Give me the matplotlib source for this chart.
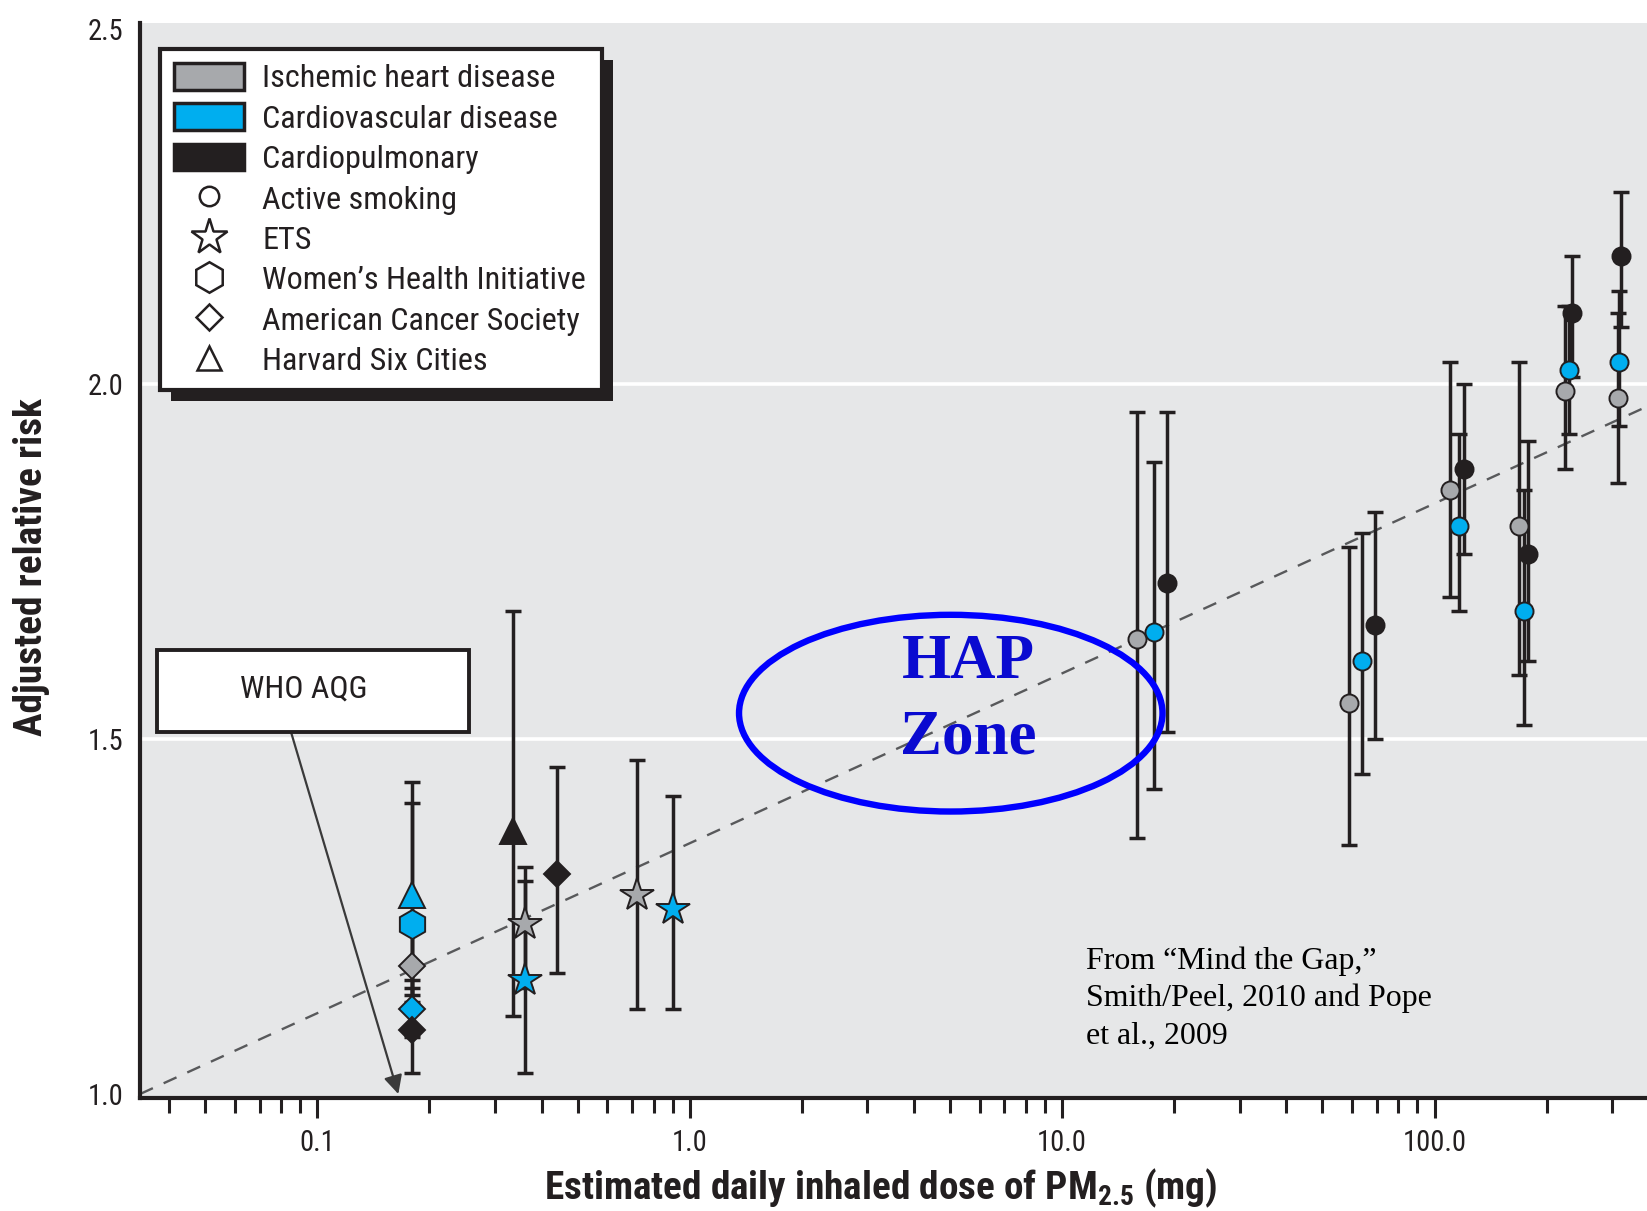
import numpy as np
import matplotlib
matplotlib.use("Agg")
import matplotlib.pyplot as plt
from matplotlib import font_manager as fm
from matplotlib.patches import Patch, Ellipse, Rectangle
from matplotlib.lines import Line2D

# ---- relative risk vs. estimated daily inhaled PM2.5 dose (mg) ----
# source keys: acs = American Cancer Society, whi = Women's Health Initiative,
# h6c = Harvard Six Cities, ets = second-hand smoke, smk = active smoking
ihd_dose = [0.18, 0.36, 0.72, 15.9, 59.0, 110.0, 169.0, 224.0, 310.0]
ihd_rr = [1.18, 1.24, 1.28, 1.64, 1.55, 1.85, 1.80, 1.99, 1.98]
ihd_lo = [1.14, 1.15, 1.12, 1.36, 1.35, 1.70, 1.59, 1.88, 1.86]
ihd_hi = [1.23, 1.32, 1.47, 1.96, 1.77, 2.03, 2.03, 2.11, 2.10]
ihd_src = ["acs", "ets", "ets", "smk", "smk", "smk", "smk", "smk", "smk"]

cvd_dose = [0.18, 0.18, 0.18, 0.36, 0.90, 17.6, 64.0, 116.0, 174.0, 229.0, 313.0]
cvd_rr = [1.12, 1.28, 1.24, 1.16, 1.26, 1.65, 1.61, 1.80, 1.68, 2.02, 2.03]
cvd_lo = [1.08, 1.13, 1.09, 1.03, 1.12, 1.43, 1.45, 1.68, 1.52, 1.93, 1.94]
cvd_hi = [1.15, 1.44, 1.41, 1.30, 1.42, 1.89, 1.79, 1.93, 1.85, 2.11, 2.13]
cvd_src = ["acs", "h6c", "whi", "ets", "ets", "smk", "smk", "smk", "smk", "smk", "smk"]

cp_dose = [0.18, 0.335, 0.44, 19.1, 69.0, 120.0, 178.0, 234.0, 317.0]
cp_rr = [1.09, 1.37, 1.31, 1.72, 1.66, 1.88, 1.76, 2.10, 2.18]
cp_lo = [1.03, 1.11, 1.17, 1.51, 1.50, 1.76, 1.61, 2.01, 2.08]
cp_hi = [1.16, 1.68, 1.46, 1.96, 1.82, 2.00, 1.92, 2.18, 2.27]
cp_src = ["acs", "h6c", "acs", "smk", "smk", "smk", "smk", "smk", "smk"]

# fitted log-linear trend
fit_dose = [0.0334, 372.0]
fit_rr = [1.0, 1.968]

# WHO air quality guideline dose
who_aqg_dose = 0.165

disease_labels = ["Ischemic heart disease", "Cardiovascular disease", "Cardiopulmonary"]
source_labels = ["Active smoking", "ETS", "Women\u2019s Health Initiative",
                 "American Cancer Society", "Harvard Six Cities"]
source_keys = ["smk", "ets", "whi", "acs", "h6c"]

x_ticks = [0.1, 1.0, 10.0, 100.0]
x_tick_labels = ["0.1", "1.0", "10.0", "100.0"]
x_minor = ([0.04, 0.05, 0.06, 0.07, 0.08, 0.09]
           + [m * 10.0 ** e for e in (-1, 0, 1) for m in range(2, 10)]
           + [200.0, 300.0])
y_ticks = [1.0, 1.5, 2.0, 2.5]

xlabel_text = "Estimated daily inhaled dose of PM$_{2.5}$ (mg)"
ylabel_text = "Adjusted relative risk"
note_text = "From \u201cMind the Gap,\u201d\nSmith/Peel, 2010 and Pope\net al., 2009"

# ---- styling ----
DARK = "#231f20"
GRAY = "#a7a9ac"
BLUE = "#00aeef"
BG = "#e6e7e8"
SERIF = ["Liberation Serif", "DejaVu Serif"]


def pick_condensed():
    """Prefer a narrow sans family; fall back to Liberation Sans."""
    names = {f.name for f in fm.fontManager.ttflist}
    for pref in ("Liberation Sans Narrow", "Arial Narrow", "Roboto Condensed",
                 "Open Sans Condensed", "Noto Sans Condensed",
                 "DejaVu Sans Condensed"):
        if pref in names:
            return pref, "normal"
    for f in fm.fontManager.ttflist:
        if (str(f.stretch) in ("condensed", "semi-condensed")
                and f.style == "normal" and "Sans" in f.name
                and "CJK" not in f.name and "Mono" not in f.name):
            return f.name, str(f.stretch)
    return "Liberation Sans", "normal"


SANS, STRETCH = pick_condensed()
plt.rcParams["font.family"] = [SANS, "DejaVu Sans"]
plt.rcParams["font.stretch"] = STRETCH
plt.rcParams["mathtext.default"] = "regular"

marker_style = {"smk": ("o", 13), "ets": ("*", 25), "whi": ("h", 21),
                "acs": ("D", 13.5), "h6c": ("^", 19)}
legend_marker = {"smk": ("o", 14), "ets": ("*", 27), "whi": ("h", 22),
                 "acs": ("D", 13), "h6c": ("^", 17)}

fig = plt.figure(figsize=(16.47, 12.11), dpi=100)
renderer = fig.canvas.get_renderer()
PX_PER_PT = fig.dpi / 72.0


def size_for_width(s, target_px, max_size, **kw):
    """Font size (pt) at which string s renders target_px wide."""
    t = fig.text(0, 0, s, fontsize=20, **kw)
    w = t.get_window_extent(renderer).width
    t.remove()
    return min(max_size, 20 * target_px / w)


tick_size = size_for_width("100.0", 64, 21)
legend_size = size_for_width("American Cancer Society", 318, 23.5)
xlabel_size = size_for_width(xlabel_text, 674, 29, fontweight="bold")
ylabel_size = size_for_width(ylabel_text, 336, 29, fontweight="bold")
who_size = size_for_width("WHO AQG", 129, 23)
note_size = size_for_width("Smith/Peel, 2010 and Pope", 345, 26, family=SERIF)
hap_size = size_for_width("HAP", 133, 50, family=SERIF, fontweight="bold")

ax = fig.add_axes([0.0850, 0.0933, 0.9150, 0.8877])
ax.set_facecolor(BG)
ax.set_xscale("log")
ax.set_xlim(0.0334, 372.0)
ax.set_ylim(0.9944, 2.508)

# white horizontal gridlines
ax.set_yticks(y_ticks)
ax.set_yticklabels([f"{v:.1f}" for v in y_ticks])
ax.grid(axis="y", color="white", lw=2.6)
for gl, v in zip(ax.get_ygridlines(), y_ticks):
    if v in (1.0, 2.5):
        gl.set_visible(False)
ax.set_axisbelow(True)

# trend line
ax.plot(fit_dose, fit_rr, ls=(0, (6, 5)), color="#58595b", lw=1.7, zorder=2)

series = [
    (ihd_dose, ihd_rr, ihd_lo, ihd_hi, ihd_src, GRAY),
    (cvd_dose, cvd_rr, cvd_lo, cvd_hi, cvd_src, BLUE),
    (cp_dose, cp_rr, cp_lo, cp_hi, cp_src, DARK),
]
z = 4.0
for dose, rr, lo, hi, src, col in series:
    d = np.array(dose)
    r = np.array(rr)
    yerr = [r - np.array(lo), np.array(hi) - r]
    ax.errorbar(d, r, yerr=yerr, fmt="none", ecolor=DARK, elinewidth=2.5,
                capsize=6, capthick=2.5, zorder=3)
    for xi, yi, s in zip(d, r, src):
        mk, ms = marker_style[s]
        ax.plot([xi], [yi], ls="none", marker=mk, ms=ms, mfc=col, mec=DARK,
                mew=1.4, zorder=z)
        z += 0.01

# axes cosmetics
for side in ("top", "right"):
    ax.spines[side].set_visible(False)
for side in ("left", "bottom"):
    ax.spines[side].set_linewidth(3)
    ax.spines[side].set_color(DARK)
ax.set_xticks(x_ticks)
ax.set_xticklabels(x_tick_labels)
ax.set_xticks(x_minor, minor=True)
ax.xaxis.set_minor_formatter(plt.NullFormatter())
ax.tick_params(axis="x", which="major", length=14.4, width=2.2, pad=8,
               direction="out", color=DARK, labelsize=tick_size, labelcolor=DARK)
ax.tick_params(axis="x", which="minor", length=10.8, width=2.2,
               direction="out", color=DARK)
ax.tick_params(axis="y", length=0, pad=12, labelsize=tick_size, labelcolor=DARK)

ax.set_xlabel(xlabel_text, fontsize=xlabel_size, fontweight="bold", color=DARK)
ax.xaxis.label.set_va("center")
ax.xaxis.set_label_coords(0.4917, -0.0837)
ax.set_ylabel(ylabel_text, fontsize=ylabel_size, fontweight="bold", color=DARK)
ax.yaxis.label.set_va("center")
ax.yaxis.set_label_coords(-0.0717, 0.494)

# legend with a solid drop shadow
handles = [Patch(facecolor=GRAY, edgecolor=DARK, lw=2.5),
           Patch(facecolor=BLUE, edgecolor=DARK, lw=2.5),
           Patch(facecolor=DARK, edgecolor=DARK, lw=2.5)]
for key in source_keys:
    mk, ms = legend_marker[key]
    handles.append(Line2D([], [], ls="none", marker=mk, ms=ms, mfc="white",
                          mec=DARK, mew=1.8))

patch_w_pt = 70 / PX_PER_PT
patch_h_pt = 29 / PX_PER_PT
row_px = 40.4


def make_legend(spacing):
    lg = ax.legend(handles, disease_labels + source_labels, loc="upper left",
                   bbox_to_anchor=(0.0133, 0.657, 0.2933, 0.319), mode="expand",
                   borderaxespad=0, prop={"size": legend_size},
                   handlelength=patch_w_pt / legend_size,
                   handleheight=patch_h_pt / legend_size,
                   handletextpad=18 / PX_PER_PT / legend_size,
                   labelspacing=spacing, borderpad=14 / PX_PER_PT / legend_size,
                   fancybox=False, framealpha=1, edgecolor=DARK,
                   facecolor="white", labelcolor=DARK)
    lg.get_frame().set_linewidth(3)
    lg.set_zorder(7)
    return lg


spacing = 0.3
leg = make_legend(spacing)
fig.canvas.draw()
texts = leg.get_texts()
y_first = texts[0].get_window_extent(renderer).y0
y_last = texts[-1].get_window_extent(renderer).y0
actual = (y_first - y_last) / (len(texts) - 1)
spacing += (row_px - actual) / (legend_size * PX_PER_PT)
leg.remove()
leg = make_legend(spacing)

# WHO AQG callout
ax.add_patch(Rectangle((0.0113, 0.3405), 0.2071, 0.0763, transform=ax.transAxes,
                       facecolor="white", edgecolor=DARK, lw=2.8, zorder=7))
ax.text(0.1085, 0.3800, "WHO AQG", transform=ax.transAxes, ha="center",
        va="center", fontsize=who_size, color=DARK, zorder=8)
ax.annotate("", xy=(who_aqg_dose, 1.0), xycoords="data",
            xytext=(0.1002, 0.3405), textcoords="axes fraction",
            arrowprops=dict(arrowstyle="-|>", color="#3a3a3a", lw=1.6,
                            mutation_scale=28, shrinkA=0, shrinkB=0),
            zorder=6)

# household air pollution zone
ax.add_patch(Ellipse((0.538, 0.358), 0.281, 0.183, transform=ax.transAxes,
                     fill=False, edgecolor="#0000ff", lw=4.6, zorder=6))
ax.text(0.5494, 0.405, "HAP", transform=ax.transAxes, ha="center", va="center",
        fontsize=hap_size, fontweight="bold", family=SERIF, color="#0a0ad0",
        zorder=8)
ax.text(0.5494, 0.334, "Zone", transform=ax.transAxes, ha="center", va="center",
        fontsize=hap_size, fontweight="bold", family=SERIF, color="#0a0ad0",
        zorder=8)

# citation, baselines spaced ~37.5 px
note_ls = 37.5 / (note_size * PX_PER_PT * 0.864)
ax.text(0.6278, 0.0928, note_text, transform=ax.transAxes, ha="left",
        va="center", fontsize=note_size, family=SERIF, color="black",
        linespacing=note_ls, zorder=8)

fig.canvas.draw()
bb = leg.get_window_extent().transformed(ax.transAxes.inverted())
ax.add_patch(Rectangle((bb.x0 + 11 / 1507, bb.y0 - 11 / 1075), bb.width, bb.height,
                       transform=ax.transAxes, facecolor=DARK, edgecolor="none",
                       zorder=6.9))

fig.savefig("out.png", dpi=100)
